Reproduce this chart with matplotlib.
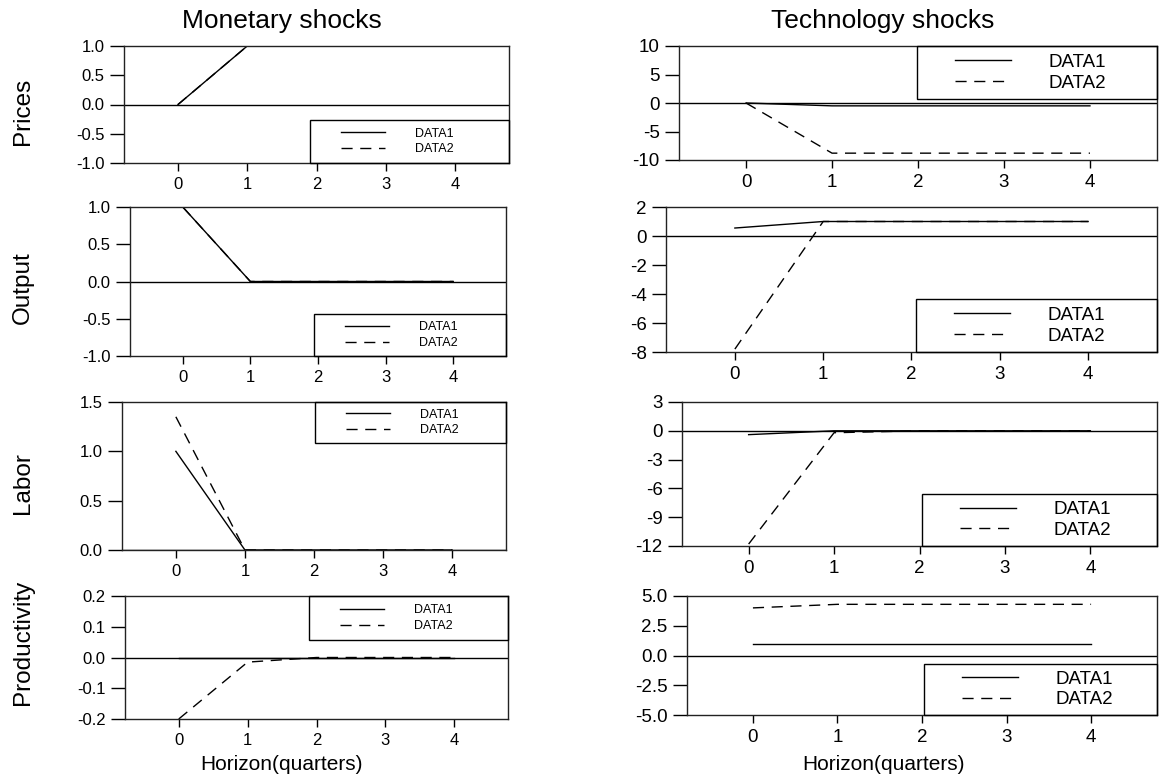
import matplotlib
matplotlib.use("Agg")
import matplotlib.pyplot as plt
from matplotlib.patches import Rectangle
from matplotlib.ticker import FormatStrFormatter

plt.rcParams['font.family'] = ['Liberation Sans', 'DejaVu Sans']

# impulse responses, horizon 0..4 quarters
horizon = [0, 1, 2, 3, 4]

mon_prices_d1 = [0.0, 1.0, 1.0, 1.0, 1.0]
mon_prices_d2 = [0.0, 1.0, 1.0, 1.0, 1.0]
mon_output_d1 = [1.0, 0.0, 0.0, 0.0, 0.0]
mon_output_d2 = [1.0, 0.0, 0.0, 0.0, 0.0]
mon_labor_d1 = [1.0, 0.0, 0.0, 0.0, 0.0]
mon_labor_d2 = [1.35, 0.0, 0.0, 0.0, 0.0]
mon_prod_d1 = [0.0, 0.0, 0.0, 0.0, 0.0]
mon_prod_d2 = [-0.2, -0.015, 0.0, 0.0, 0.0]

tech_prices_d1 = [0.0, -0.5, -0.5, -0.5, -0.5]
tech_prices_d2 = [0.0, -8.8, -8.8, -8.8, -8.8]
tech_output_d1 = [0.55, 1.0, 1.0, 1.0, 1.0]
tech_output_d2 = [-7.8, 1.0, 1.0, 1.0, 1.0]
tech_labor_d1 = [-0.4, 0.0, 0.0, 0.0, 0.0]
tech_labor_d2 = [-11.8, -0.2, 0.0, 0.0, 0.0]
tech_prod_d1 = [1.0, 1.0, 1.0, 1.0, 1.0]
tech_prod_d2 = [4.0, 4.3, 4.3, 4.3, 4.3]

row_labels = ['Prices', 'Output', 'Labor', 'Productivity']
col_titles = ['Monetary shocks', 'Technology shocks']

W, H = 1161, 779
fig = plt.figure(figsize=(W / 100, H / 100), dpi=100)

# (box px, ylim, yticks, fmt, d1, d2, legend box px (x0, y0, y1), big fonts?)
panels = [
    ((124, 509, 46, 163), (-1, 1), [-1, -0.5, 0, 0.5, 1], '%.1f', mon_prices_d1, mon_prices_d2, (310, 120, 163), False),
    ((130, 506, 207, 356), (-1, 1), [-1, -0.5, 0, 0.5, 1], '%.1f', mon_output_d1, mon_output_d2, (314, 314, 356), False),
    ((122, 506, 402, 550), (0, 1.5), [0, 0.5, 1, 1.5], '%.1f', mon_labor_d1, mon_labor_d2, (315, 402, 443), False),
    ((125, 508, 596, 719), (-0.2, 0.2), [-0.2, -0.1, 0, 0.1, 0.2], '%.1f', mon_prod_d1, mon_prod_d2, (309, 596, 640), False),
    ((679, 1157, 46, 160), (-10, 10), [-10, -5, 0, 5, 10], '%d', tech_prices_d1, tech_prices_d2, (917, 46, 99), True),
    ((666, 1157, 207, 352), (-8, 2), [-8, -6, -4, -2, 0, 2], '%d', tech_output_d1, tech_output_d2, (916, 299, 352), True),
    ((682, 1157, 402, 546), (-12, 3), [-12, -9, -6, -3, 0, 3], '%d', tech_labor_d1, tech_labor_d2, (922, 494, 546), True),
    ((687, 1157, 596, 715), (-5, 5), [-5, -2.5, 0, 2.5, 5], '%.1f', tech_prod_d1, tech_prod_d2, (924, 664, 715), True),
]

for (x0, x1, y0, y1), ylim, yt, fmt, d1, d2, (lx0, ly0, ly1), big in panels:
    ax = fig.add_axes([x0 / W, 1 - y1 / H, (x1 - x0) / W, (y1 - y0) / H])
    ax.axhline(0, color='black', lw=1.0)
    ax.plot(horizon, d1, color='black', lw=1.0, label='DATA1')
    ax.plot(horizon, d2, color='black', lw=1.0, dashes=(8, 5.5), label='DATA2')
    ax.set_xlim(-0.78, 4.78)
    ax.set_ylim(*ylim)
    ax.set_xticks(horizon)
    ax.set_yticks(yt)
    ax.yaxis.set_major_formatter(FormatStrFormatter(fmt))
    for s in ax.spines.values():
        s.set_linewidth(1.0)
        s.set_color('#222222')
    ax.tick_params(axis='y', direction='out', length=10, width=1.0, pad=4,
                   labelsize=13.5 if big else 12)
    ax.tick_params(axis='x', direction='out', length=6, width=1.0, pad=4,
                   labelsize=13.5 if big else 12)

    # legend box sits in a corner, flush with the right spine
    bx = (lx0 - x0) / (x1 - x0)
    by0 = (y1 - ly1) / (y1 - y0)
    bh = (ly1 - ly0) / (y1 - y0)
    ax.add_patch(Rectangle((bx, by0), 1 - bx, bh, transform=ax.transAxes,
                           fill=False, ec='black', lw=1.0, clip_on=False, zorder=5))
    hoff = 38 if big else 31
    fs = 13.5 if big else 9
    ax.legend(loc='center left', bbox_to_anchor=((lx0 + hoff - x0) / (x1 - x0), by0 + bh / 2),
              frameon=False, fontsize=fs, borderpad=0, borderaxespad=0,
              handlelength=3.0 if big else 3.5, handletextpad=2.0 if big else 2.4,
              labelspacing=0.2 if big else 0.3)

for i, t in enumerate(col_titles):
    fig.text([282, 883][i] / W, 1 - 21 / H, t, ha='center', va='center', fontsize=19)
    fig.text([282, 883][i] / W, 1 - 764 / H, 'Horizon(quarters)', ha='center', va='center', fontsize=15)

for lab, yc in zip(row_labels, [111, 288, 483, 642]):
    fig.text(23 / W, 1 - yc / H, lab, ha='center', va='center', rotation=90, fontsize=17.5)

fig.savefig('out.png', dpi=100)
